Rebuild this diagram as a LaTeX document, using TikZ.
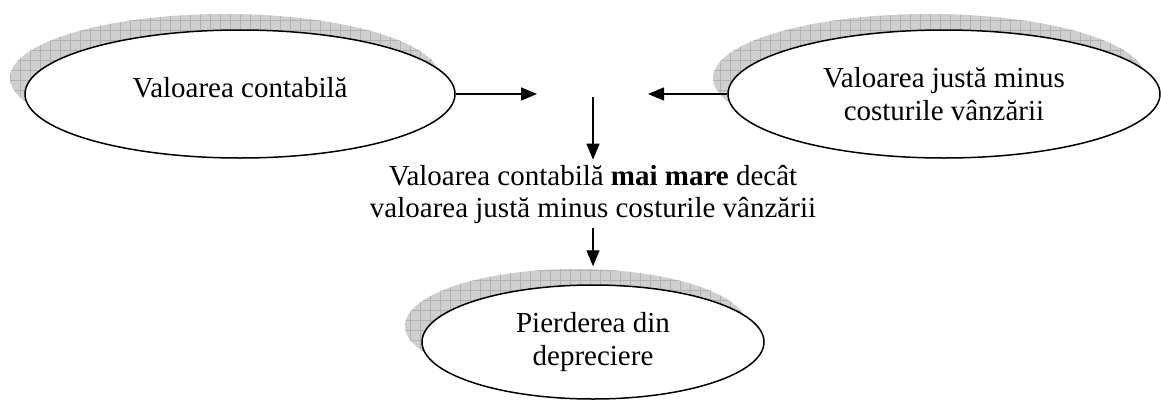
\documentclass[tikz,border=0pt]{standalone}
\usepackage{fontspec}
\setmainfont{Liberation Serif}
\usetikzlibrary{shapes.geometric,arrows.meta}
\newcommand\shadowoval[4]{%
  \begin{scope}
    \clip (#1,#2) ellipse [x radius=#3, y radius=#4];
    \fill[gray!38] (#1-#3,#2-#4) rectangle (#1+#3,#2+#4);
    \draw[gray!60, line width=0.6pt, step=10pt] (#1-#3,#2-#4) grid (#1+#3,#2+#4);
  \end{scope}}
\begin{document}
\begin{tikzpicture}[x=1pt,y=-1pt,
  oval/.style={ellipse, draw, line width=1.5pt, fill=white, inner sep=0pt, align=center,
    font=\fontsize{29}{33}\selectfont},
  arr/.style={line width=1.4pt, -{Triangle[length=16pt,width=13pt]}},
  txt/.style={align=center, inner sep=5pt, font=\fontsize{29}{32}\selectfont}]
\useasboundingbox (0,0) rectangle (1161,399);
% shadows
\shadowoval{225}{78}{215}{64}
\shadowoval{929}{78}{216}{64}
\shadowoval{576}{326}{171}{57}
% ellipses
\node[oval, minimum width=430pt, minimum height=128pt, text depth=14pt] (left) at (240,94) {Valoarea contabilă};
\node[oval, minimum width=432pt, minimum height=128pt] (right) at (944,94) {Valoarea justă minus\\costurile vânzării};
\node[oval, minimum width=342pt, minimum height=114pt] (bot) at (593,342) {Pierderea din\\depreciere};
% middle text
\node[txt] (mid) at (593,194) {Valoarea contabilă \textbf{mai mare} decât\\valoarea justă minus costurile vânzării};
% connectors
\coordinate (tipL) at (537,95);
\coordinate (tipR) at (648,95);
\coordinate (vtop) at (593,97);
\draw[arr] (left.east) -- (left.east -| tipL);
\draw[arr] (right.west) -- (right.west -| tipR);
\draw[arr] (vtop) -- (mid.north);
\draw[arr] (mid.south) -- ([yshift=18pt]bot.north);
\end{tikzpicture}
\end{document}
